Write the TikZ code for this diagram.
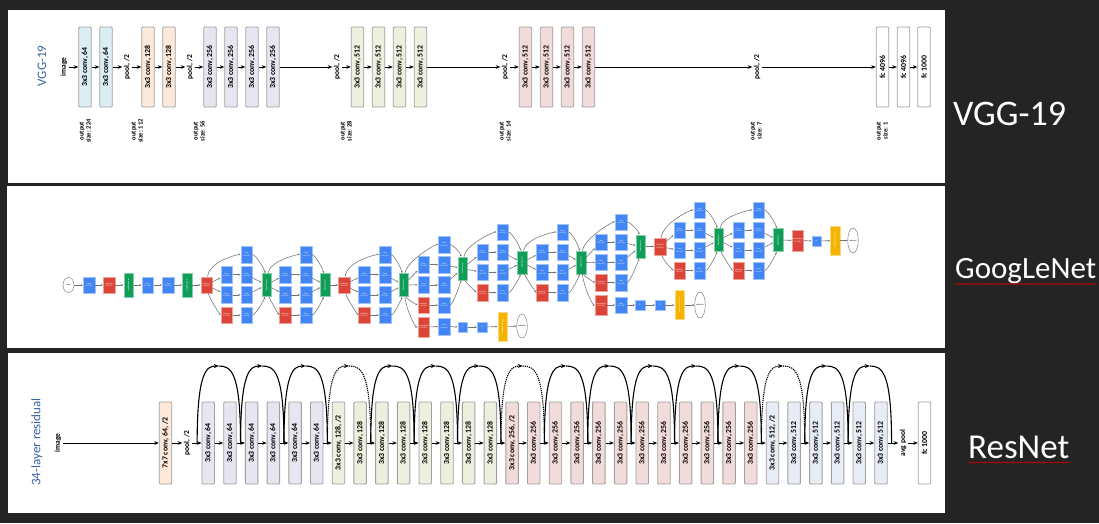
\documentclass[tikz,border=0pt]{standalone}
\usepackage{fontspec}
\usepackage{graphicx}
\setmainfont{Carlito}
\usetikzlibrary{arrows.meta,shapes.geometric,decorations.pathmorphing}
\definecolor{bg}{RGB}{36,36,36}
\definecolor{bgray}{RGB}{160,160,160}
\definecolor{cblue}{RGB}{219,238,244}
\definecolor{cpeach}{RGB}{253,233,217}
\definecolor{clav}{RGB}{231,230,240}
\definecolor{cgreen}{RGB}{235,241,222}
\definecolor{cpink}{RGB}{242,220,219}
\definecolor{cslate}{RGB}{231,236,245}
\definecolor{ttl}{RGB}{58,100,160}
\definecolor{gbl}{RGB}{66,133,244}
\definecolor{grd}{RGB}{219,68,55}
\definecolor{ggr}{RGB}{15,157,88}
\definecolor{gyl}{RGB}{244,180,0}
\definecolor{gln}{RGB}{115,115,115}
\newcommand{\rtx}[1]{\rotatebox{90}{#1}}
\tikzset{
  layer/.style={draw=bgray, line width=0.9pt, minimum width=12.5pt, minimum height=80pt, inner sep=0pt, rounded corners=1pt, font=\fontsize{7.8}{8}\selectfont\bfseries},
  rlayer/.style={layer, minimum height=82pt},
  lbl/.style={inner sep=0pt, outer sep=1.5pt, rotate=90, font=\fontsize{7.5}{8}\selectfont\bfseries},
  outlbl/.style={inner sep=0pt, rotate=90, align=center, font=\fontsize{6.5}{7}\selectfont\bfseries},
  sidettl/.style={inner sep=0pt, rotate=90, text=ttl, font=\fontsize{13}{13}\selectfont},
  flow/.style={-{Stealth[length=4.5pt,width=3.6pt]}, line width=0.8pt, black},
  skipa/.style={-{Stealth[length=5pt,width=4pt]}, line width=1.1pt, black},
  skipb/.style={line width=1.1pt, black},
  dotted skip/.style={dash pattern=on 1.2pt off 0.9pt},
  gn/.style={inner sep=0pt, text=white, align=center, font=\fontsize{2}{2.3}\selectfont, line width=0.5pt},
  gb/.style={gn, fill=gbl, draw=gbl!50, minimum width=11.5pt, minimum height=16.5pt},
  gr/.style={gn, fill=grd, draw=grd!50, minimum width=11.5pt, minimum height=16.5pt},
  gg/.style={gn, fill=ggr, draw=ggr!50, minimum width=9.5pt, minimum height=23pt},
  gy/.style={gn, fill=gyl, draw=gyl!50, minimum width=9.5pt, minimum height=29pt},
  gf/.style={gn, fill=gbl, draw=gbl!50, minimum width=9.5pt, minimum height=10pt},
  go/.style={ellipse, draw=gray, line width=0.5pt, minimum width=10pt, minimum height=24pt, inner sep=0pt, font=\fontsize{2}{2.3}\selectfont},
  ge/.style={-{Stealth[length=2.2pt,width=1.8pt]}, draw=gln, line width=0.55pt},
  bigttl/.style={anchor=base west, inner sep=0pt, text=white},
  squiggle/.style={draw=red!80!black, line width=0.6pt, decorate, decoration={snake, amplitude=0.6pt, segment length=2.6pt}}
}
\newcommand{\googinc}[7]{%
  \node[gb] (#1b1) at (#4,#6) {Conv\\1x1+1(S)};
  \node[gb] (#1a2) at (#3,{#6+20.2}) {Conv\\1x1+1(S)};
  \node[gb] (#1b2) at (#4,{#6+20.2}) {Conv\\3x3+1(S)};
  \node[gb] (#1a3) at (#3,{#6+40.4}) {Conv\\1x1+1(S)};
  \node[gb] (#1b3) at (#4,{#6+40.4}) {Conv\\5x5+1(S)};
  \node[gr] (#1a4) at (#3,{#6+60.6}) {MaxPool\\3x3+1(S)};
  \node[gb] (#1b4) at (#4,{#6+60.6}) {Conv\\1x1+1(S)};
  \node[gg] (#1c) at (#5,#7) {\rtx{DepthConcat}};
  \draw[ge] (#2) .. controls +(3,-24) and +(-9,0) .. (#1b1);
  \draw[ge] (#2) -- (#1a2);
  \draw[ge] (#2) -- (#1a3);
  \draw[ge] (#2) .. controls +(3,14) and +(-6,0) .. (#1a4);
  \foreach \rr in {2,3,4} {\draw[ge] (#1a\rr) -- (#1b\rr);}
  \draw[ge] (#1b1) .. controls +(9,0) and +(-2,-16) .. (#1c);
  \draw[ge] (#1b2) -- (#1c);
  \draw[ge] (#1b3) -- (#1c);
  \draw[ge] (#1b4) .. controls +(9,0) and +(-2,14) .. (#1c);
}
\begin{document}
\begin{tikzpicture}[x=1pt,y=-1pt]
\useasboundingbox (0,0) rectangle (1099,523);
\fill[bg] (0,0) rectangle (1099,523);
\fill[white] (8,10) rectangle (945,183);
\fill[white] (7,186) rectangle (945,348);
\fill[white] (8,353) rectangle (945,513);

% ---------------- VGG-19 ----------------
\node[sidettl] (vggt) at (42,66) {VGG-19};
\node[lbl] (vimg) at (64,67) {image};
\node[layer,fill=cblue] (v1) at (85,67) {\rtx{3x3 conv, 64}};
\node[layer,fill=cblue] (v2) at (106,67) {\rtx{3x3 conv, 64}};
\node[lbl] (vp1) at (127,67) {pool, /2};
\node[layer,fill=cpeach] (v3) at (148,67) {\rtx{3x3 conv, 128}};
\node[layer,fill=cpeach] (v4) at (169,67) {\rtx{3x3 conv, 128}};
\node[lbl] (vp2) at (190,67) {pool, /2};
\node[layer,fill=clav] (v5) at (210,67) {\rtx{3x3 conv, 256}};
\node[layer,fill=clav] (v6) at (231,67) {\rtx{3x3 conv, 256}};
\node[layer,fill=clav] (v7) at (252,67) {\rtx{3x3 conv, 256}};
\node[layer,fill=clav] (v8) at (273,67) {\rtx{3x3 conv, 256}};
\node[lbl] (vp3) at (337,67) {pool, /2};
\node[layer,fill=cgreen] (v9) at (357.5,67) {\rtx{3x3 conv, 512}};
\node[layer,fill=cgreen] (v10) at (378.5,67) {\rtx{3x3 conv, 512}};
\node[layer,fill=cgreen] (v11) at (399.5,67) {\rtx{3x3 conv, 512}};
\node[layer,fill=cgreen] (v12) at (420.5,67) {\rtx{3x3 conv, 512}};
\node[lbl] (vp4) at (505,67) {pool, /2};
\node[layer,fill=cpink] (v13) at (525.5,67) {\rtx{3x3 conv, 512}};
\node[layer,fill=cpink] (v14) at (546.5,67) {\rtx{3x3 conv, 512}};
\node[layer,fill=cpink] (v15) at (567.5,67) {\rtx{3x3 conv, 512}};
\node[layer,fill=cpink] (v16) at (588.5,67) {\rtx{3x3 conv, 512}};
\node[lbl] (vp5) at (757,67) {pool, /2};
\node[layer,fill=white] (vf1) at (882.5,67) {\rtx{fc 4096}};
\node[layer,fill=white] (vf2) at (903.5,67) {\rtx{fc 4096}};
\node[layer,fill=white] (vf3) at (924,67) {\rtx{fc 1000}};
\foreach \a/\b in {vimg/v1,v1/v2,v2/vp1,vp1/v3,v3/v4,v4/vp2,vp2/v5,v5/v6,v6/v7,v7/v8,v8/vp3,vp3/v9,v9/v10,v10/v11,v11/v12,v12/vp4,vp4/v13,v13/v14,v14/v15,v15/v16,v16/vp5,vp5/vf1,vf1/vf2,vf2/vf3}
  {\draw[flow] (\a) -- (\b);}
\node[outlbl] (o1) at (85,131) {output\\size: 224};
\node[outlbl] (o2) at (137,131) {output\\size: 112};
\node[outlbl] (o3) at (199,131) {output\\size: 56};
\node[outlbl] (o4) at (346,131) {output\\size: 28};
\node[outlbl] (o5) at (505,131) {output\\size: 14};
\node[outlbl] (o6) at (756,131) {output\\size: 7};
\node[outlbl] (o7) at (882,131) {output\\size: 1};

% ---------------- GoogLeNet ----------------
\node[go, minimum width=11pt, minimum height=15pt] (gin) at (68.5,285) {input};
\node[gb] (g1) at (89,285) {Conv\\7x7+2(S)};
\node[gr] (g2) at (109,285) {MaxPool\\3x3+2(S)};
\node[gg, minimum height=24pt] (g3) at (128.5,285) {\rtx{LocalRespNorm}};
\node[gb] (g4) at (147.5,285) {Conv\\1x1+1(V)};
\node[gb] (g5) at (168,285) {Conv\\3x3+1(S)};
\node[gg, minimum height=24pt] (g6) at (187,285) {\rtx{LocalRespNorm}};
\node[gr] (mp2) at (206.5,285) {MaxPool\\3x3+2(S)};
\foreach \a/\b in {gin/g1,g1/g2,g2/g3,g3/g4,g4/g5,g5/g6,g6/mp2} {\draw[ge] (\a) -- (\b);}
\googinc{m3a}{mp2}{226.5}{246.5}{266.5}{254.5}{285}
\googinc{m3b}{m3ac}{285}{306}{325}{254.5}{285}
\node[gr] (mp3) at (344,285) {MaxPool\\3x3+2(S)};
\draw[ge] (m3bc) -- (mp3);
\googinc{m4a}{mp3}{364}{385}{403.5}{254.5}{285}
\googinc{m4b}{m4ac}{423.5}{444}{462.5}{244.5}{268.5}
\googinc{m4c}{m4bc}{482.5}{502.5}{522}{232}{262.5}
\googinc{m4d}{m4cc}{542}{562.5}{581}{232}{262.5}
\googinc{m4e}{m4dc}{601}{621}{640.5}{222}{246.5}
\node[gr] (mp4) at (660,246.5) {MaxPool\\3x3+2(S)};
\draw[ge] (m4ec) -- (mp4);
\googinc{m5a}{mp4}{679.5}{699.5}{718.5}{210}{240}
\googinc{m5b}{m5ac}{738.5}{758.5}{778}{210}{240}
\node[gr, minimum height=21pt] (gap7) at (797.5,240.5) {AveragePool\\7x7+1(V)};
\node[gf] (gfc) at (816.5,241) {FC};
\node[gy] (gsm) at (835,240.5) {\rtx{SoftmaxActivation}};
\node[go, minimum height=25pt] (gout) at (853,240.5) {softmax2};
\foreach \a/\b in {m5bc/gap7,gap7/gfc,gfc/gsm,gsm/gout} {\draw[ge] (\a) -- (\b);}
% auxiliary classifier 1
\node[gr, minimum height=20pt] (x1p) at (423.5,327) {AveragePool\\5x5+3(V)};
\node[gb] (x1c) at (444,326.5) {Conv\\1x1+1(S)};
\node[gf] (x1f1) at (462.5,327) {FC};
\node[gf] (x1f2) at (482,327) {FC};
\node[gy] (x1s) at (502.5,326.5) {\rtx{SoftmaxActivation}};
\node[go] (x1o) at (522,326) {softmax0};
\draw[ge] (m4ac) .. controls +(3,26) and +(-8,0) .. (x1p);
\foreach \a/\b in {x1p/x1c,x1c/x1f1,x1f1/x1f2,x1f2/x1s,x1s/x1o} {\draw[ge] (\a) -- (\b);}
% auxiliary classifier 2
\node[gr, minimum height=20pt] (x2p) at (601,305) {AveragePool\\5x5+3(V)};
\node[gb] (x2c) at (621,305) {Conv\\1x1+1(S)};
\node[gf] (x2f1) at (640,305) {FC};
\node[gf] (x2f2) at (660,305) {FC};
\node[gy] (x2s) at (679.5,305) {\rtx{SoftmaxActivation}};
\node[go, minimum height=26pt] (x2o) at (700,305) {softmax1};
\draw[ge] (m4dc) .. controls +(3,26) and +(-8,0) .. (x2p);
\foreach \a/\b in {x2p/x2c,x2c/x2f1,x2f1/x2f2,x2f2/x2s,x2s/x2o} {\draw[ge] (\a) -- (\b);}

% ---------------- ResNet ----------------
\node[sidettl] (rest) at (37,442) {34-layer residual};
\node[lbl] (rimg) at (58,443) {image};
\node[rlayer,fill=cpeach] (r0) at (165.5,443) {\rtx{7x7 conv, 64, /2}};
\node[lbl] (rp) at (187,443) {pool, /2};
\foreach \j in {1,...,6} {\node[rlayer,fill=clav] (r\j) at ({208.25+21.7*(\j-1)},443) {\rtx{3x3 conv, 64}};}
\node[rlayer,fill=cgreen] (r7) at ({208.25+21.7*6},443) {\rtx{3x3 conv, 128, /2}};
\foreach \j in {8,...,14} {\node[rlayer,fill=cgreen] (r\j) at ({208.25+21.7*(\j-1)},443) {\rtx{3x3 conv, 128}};}
\node[rlayer,fill=cpink] (r15) at ({208.25+21.7*14},443) {\rtx{3x3 conv, 256, /2}};
\foreach \j in {16,...,26} {\node[rlayer,fill=cpink] (r\j) at ({208.25+21.7*(\j-1)},443) {\rtx{3x3 conv, 256}};}
\node[rlayer,fill=cslate] (r27) at ({208.25+21.7*26},443) {\rtx{3x3 conv, 512, /2}};
\foreach \j in {28,...,32} {\node[rlayer,fill=cslate] (r\j) at ({208.25+21.7*(\j-1)},443) {\rtx{3x3 conv, 512}};}
\node[lbl] (rap) at (903,443) {avg pool};
\node[rlayer,fill=white] (rfc) at (924.5,443) {\rtx{fc 1000}};
\foreach \a/\b in {rimg/r0,r0/rp,rp/r1,r32/rap,rap/rfc} {\draw[flow] (\a) -- (\b);}
\foreach \j in {1,...,31} {\pgfmathtruncatemacro\k{\j+1}\draw[flow] (r\j) -- (r\k);}
% shortcut arcs
\foreach \g in {0,...,32} {\coordinate (gp\g) at ({197.15+21.7*\g},443);}
\foreach \k in {0,...,15} {\coordinate (tp\k) at ({197.15+21.7*(2*\k+1)},366);}
\foreach \k in {0,1,2,4,5,6,8,9,10,11,12,14,15} {%
  \pgfmathtruncatemacro\a{2*\k}\pgfmathtruncatemacro\b{2*\k+2}
  \draw[skipa] (gp\a) .. controls +(0,-72) and +(-12,0) .. (tp\k);
  \draw[skipb] (tp\k) .. controls +(12,0) and +(0,-72) .. (gp\b);}
\foreach \k in {3,7,13} {%
  \pgfmathtruncatemacro\a{2*\k}\pgfmathtruncatemacro\b{2*\k+2}
  \draw[skipa,dotted skip] (gp\a) .. controls +(0,-72) and +(-12,0) .. (tp\k);
  \draw[skipb,dotted skip] (tp\k) .. controls +(12,0) and +(0,-72) .. (gp\b);}

% ---------------- side titles ----------------
\node[bigttl, font=\fontsize{36}{36}\selectfont] (tv) at (953,125) {VGG-19};
\node[bigttl, font=\fontsize{31}{31}\selectfont] (tg) at (955,278) {GoogLeNet};
\node[bigttl, font=\fontsize{35}{35}\selectfont] (tr) at (968,458) {ResNet};
\draw[squiggle] ([yshift=-0.5pt]tg.south west) -- ([yshift=-0.5pt]tg.south east);
\draw[squiggle] ([yshift=-4pt]tr.south west) -- ([yshift=-4pt]tr.south east);
\end{tikzpicture}
\end{document}
